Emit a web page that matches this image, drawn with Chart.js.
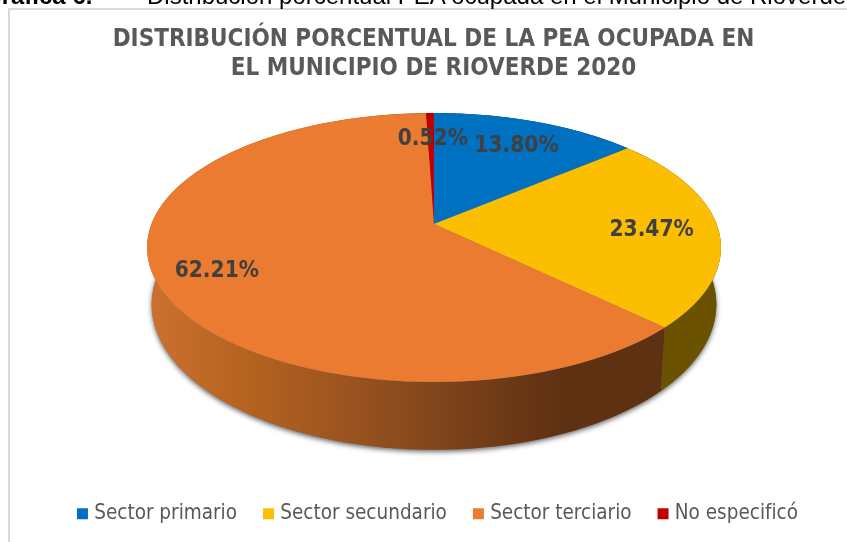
<!DOCTYPE html>
<html lang="es">
<head>
<meta charset="utf-8">
<style>
html,body{margin:0;padding:0;background:#fff;width:847px;height:542px;overflow:hidden}
#wrap{position:relative;width:847px;height:542px;overflow:hidden}
canvas{position:absolute;left:0;top:0}
#frame{position:absolute;left:8px;top:8px;width:860px;height:560px;border-left:2px solid #d9d9d9;border-top:2px solid #d9d9d9;box-sizing:border-box;pointer-events:none}
.cap{position:absolute;top:-15px;font:24px/22px "Liberation Sans",Arial,sans-serif;color:#000;white-space:nowrap}
</style>
</head>
<body>
<div id="wrap">
<canvas id="c" width="847" height="542"></canvas>
<div id="frame"></div>
<div class="cap" style="left:-17px;font-weight:bold">Gráfica 6.</div>
<div class="cap" style="left:147px">Distribución porcentual PEA ocupada en el Municipio de Rioverde</div>
</div>
<script src="https://cdn.jsdelivr.net/npm/chart.js@4"></script>
<script>
const categories = ['Sector primario', 'Sector secundario', 'Sector terciario', 'No especificó'];
const percentages = [13.80, 23.47, 62.21, 0.52];
const sliceColors = ['#0070c0', '#fbbe00', '#ea7b30', '#c00000'];
const titleLines = ['DISTRIBUCIÓN PORCENTUAL DE LA PEA OCUPADA EN', 'EL MUNICIPIO DE RIOVERDE 2020'];

const FONT = '"DejaVu Sans Condensed","DejaVu Sans",sans-serif';

// Tilted-disc projection of the unit circle (perspective view of the pie)
const cx = 434, persp = 0.1747;
const topPlane = {w: 282.6, h: 130.4, y0: 224};
const basePlane = {w: 278, h: 141, y0: 279};
function project(plane, angle) {
  const ux = Math.cos(angle), uy = -Math.sin(angle);
  const d = 1 + persp * uy;
  return {x: cx + plane.w * ux / d, y: plane.y0 - plane.h * uy / d};
}
function wallPath(ctx, a0, a1) {
  const n = 120;
  ctx.beginPath();
  for (let i = 0; i <= n; i++) {
    const p = project(topPlane, a0 + (a1 - a0) * i / n);
    i ? ctx.lineTo(p.x, p.y) : ctx.moveTo(p.x, p.y);
  }
  for (let i = n; i >= 0; i--) {
    const p = project(basePlane, a0 + (a1 - a0) * i / n);
    ctx.lineTo(p.x, p.y);
  }
  ctx.closePath();
}
function baseEllipse(ctx) {
  const n = 180;
  ctx.beginPath();
  for (let i = 0; i <= n; i++) {
    const p = project(basePlane, 2 * Math.PI * i / n);
    i ? ctx.lineTo(p.x, p.y) : ctx.moveTo(p.x, p.y);
  }
  ctx.closePath();
}

const discPlugin = {
  id: 'disc',
  beforeDraw(chart) {
    // the legend row sits slightly right of the title's centre
    if (!chart.$legendMoved) {
      chart.legend.left += 6;
      chart.legend.right += 6;
      chart.$legendMoved = true;
    }
  },
  beforeDatasetDraw(chart) {
    const ctx = chart.ctx;
    const arcs = chart.getDatasetMeta(0).data;

    // soft shadow under the disc
    ctx.save();
    ctx.shadowColor = 'rgba(40,40,40,0.7)';
    ctx.shadowBlur = 5;
    ctx.shadowOffsetY = 2;
    ctx.fillStyle = '#777';
    baseEllipse(ctx);
    ctx.fill();
    ctx.restore();

    // side walls, shaded per slice
    const orange = ctx.createLinearGradient(150, 0, 660, 0);
    [[0, '#cc7030'], [0.2, '#b4621f'], [0.38, '#9c5420'], [0.55, '#82461b'],
     [0.68, '#703b17'], [0.8, '#5f3113'], [1, '#5f3113']].forEach(s => orange.addColorStop(s[0], s[1]));
    const wallFill = ['#003a66', '#6b5200', orange, '#600000'];
    arcs.forEach((arc, i) => {
      wallPath(ctx, arc.startAngle, arc.endAngle);
      ctx.fillStyle = wallFill[i];
      ctx.fill();
    });

    // top face: library arcs re-aimed at the projected apex, clipped to the rim
    ctx.save();
    ctx.beginPath();
    ctx.ellipse(cx, 247.5, 287, 134.5, 0, 0, 2 * Math.PI);
    ctx.clip();
    arcs.forEach(arc => {
      const saved = {x: arc.x, y: arc.y, startAngle: arc.startAngle, endAngle: arc.endAngle,
        circumference: arc.circumference, outerRadius: arc.outerRadius, innerRadius: arc.innerRadius};
      const p0 = project(topPlane, saved.startAngle), p1 = project(topPlane, saved.endAngle);
      let a0 = Math.atan2(p0.y - topPlane.y0, p0.x - cx);
      let a1 = Math.atan2(p1.y - topPlane.y0, p1.x - cx);
      while (a1 <= a0) a1 += 2 * Math.PI;
      Object.assign(arc, {x: cx, y: topPlane.y0, startAngle: a0, endAngle: a1,
        circumference: a1 - a0, outerRadius: 420, innerRadius: 0});
      arc.draw(ctx);
      Object.assign(arc, saved);
    });
    ctx.restore();

    // value labels
    ctx.save();
    ctx.font = 'bold 22.5px ' + FONT;
    ctx.fillStyle = '#404040';
    ctx.textAlign = 'center';
    ctx.textBaseline = 'middle';
    arcs.forEach((arc, i) => {
      const mid = (arc.startAngle + arc.endAngle) / 2;
      const r = i === 2 ? 0.8 : 0.76;
      const ux = Math.cos(mid) * r, uy = -Math.sin(mid) * r, d = 1 + persp * uy;
      ctx.fillText(percentages[i].toFixed(2) + '%', cx + 2 + topPlane.w * ux / d, topPlane.y0 + 2.5 - topPlane.h * uy / d);
    });
    ctx.restore();
    return false;
  }
};

new Chart(document.getElementById('c'), {
  type: 'pie',
  data: {
    labels: categories,
    datasets: [{data: percentages, backgroundColor: sliceColors, borderWidth: 0}]
  },
  options: {
    responsive: false,
    animation: false,
    layout: {padding: {top: 25, bottom: 8, left: 40, right: 20}},
    plugins: {
      tooltip: {enabled: false},
      title: {
        display: true,
        text: titleLines,
        color: '#595959',
        font: {family: FONT, size: 24, weight: 'bold', lineHeight: 1.21},
        padding: {top: 0, bottom: 0}
      },
      legend: {
        position: 'bottom',
        labels: {
          color: '#595959',
          font: {family: FONT, size: 20.5},
          usePointStyle: true,
          pointStyle: 'rect',
          boxWidth: 3,
          boxHeight: 11,
          padding: 30
        }
      }
    }
  },
  plugins: [discPlugin]
});
</script>
</body>
</html>
